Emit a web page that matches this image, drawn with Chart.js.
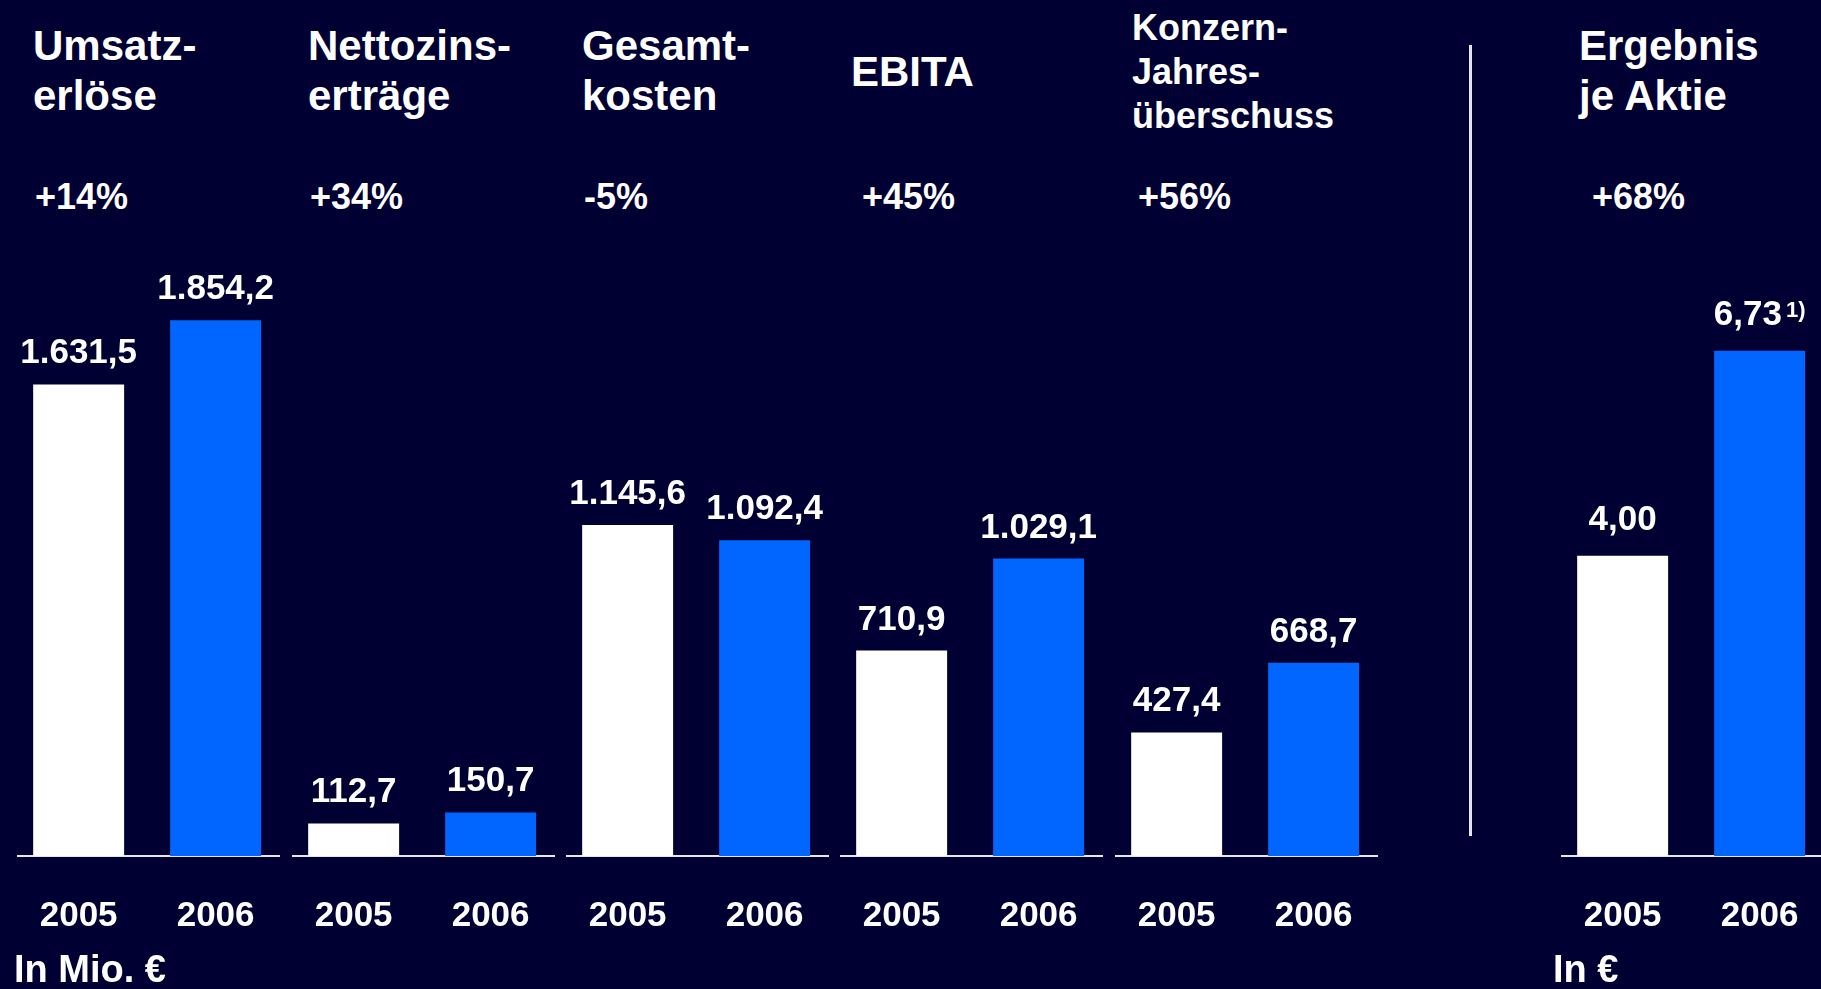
<!DOCTYPE html>
<html lang="de">
<head>
<meta charset="utf-8">
<title>Kennzahlen 2006</title>
<script src="https://cdn.jsdelivr.net/npm/chart.js@4.4.1/dist/chart.umd.min.js"></script>
<style>
    html, body {
        margin: 0;
        padding: 0;
        width: 1821px;
        height: 989px;
        overflow: hidden;
        background: #000033;
        font-family: "Liberation Sans", Arial, sans-serif;
        font-weight: bold;
        color: #ffffff;
    }
    .panel-chart { position: absolute; top: 200px; }
    .title { position: absolute; font-size: 42px; line-height: 50px; top: 21px; white-space: nowrap; }
    .title--small { font-size: 36px; line-height: 44px; top: 6px; }
    .title--single { top: 47px; }
    .change { position: absolute; font-size: 36px; line-height: 44px; top: 175px; }
    .unit { position: absolute; font-size: 38px; line-height: 44px; top: 947px; }
    .divider { position: absolute; left: 1469px; top: 45px; width: 3px; height: 791px; background: #e4e4ec; }
</style>
</head>
<body>
<div id="stage"></div>
<div class="divider"></div>
<div class="unit" style="left: 14px;">In Mio. €</div>
<div class="unit" style="left: 1553px;">In €</div>

<script>
// Chart data
const years = ['2005', '2006'];
const umsatzerloese = [1631.5, 1854.2];
const nettozinsertraege = [112.7, 150.7];
const gesamtkosten = [1145.6, 1092.4];
const ebita = [710.9, 1029.1];
const jahresueberschuss = [427.4, 668.7];
const ergebnisJeAktie = [4.00, 6.73];
const ergebnisNotes = ['', '1)'];

const panelTitles = [
    ['Umsatz-', 'erlöse'],
    ['Nettozins-', 'erträge'],
    ['Gesamt-', 'kosten'],
    ['EBITA'],
    ['Konzern-', 'Jahres-', 'überschuss'],
    ['Ergebnis', 'je Aktie'],
];
const changes = ['+14%', '+34%', '-5%', '+45%', '+56%', '+68%'];

const barColors = ['#ffffff', '#0066ff'];
const FONT = '"Liberation Sans", Arial, sans-serif';

function formatDe(value, decimals) {
    const fixed = value.toFixed(decimals);
    const [intPart, decPart] = fixed.split('.');
    const grouped = intPart.replace(/\B(?=(\d{3})+(?!\d))/g, '.');
    return decPart ? grouped + ',' + decPart : grouped;
}

// Draws the value above each bar, with an optional raised footnote marker
const valueLabels = {
    id: 'valueLabels',
    afterDatasetsDraw(chart, args, opts) {
        const ctx = chart.ctx;
        const meta = chart.getDatasetMeta(0);
        const gap = opts.gap || 21;
        ctx.save();
        ctx.fillStyle = '#ffffff';
        ctx.textBaseline = 'alphabetic';
        ctx.textAlign = 'left';
        meta.data.forEach((bar, i) => {
            const text = opts.labels[i];
            const note = (opts.notes && opts.notes[i]) || '';
            ctx.font = 'bold 35px ' + FONT;
            const mainWidth = ctx.measureText(text).width;
            ctx.font = 'bold 22px ' + FONT;
            const noteWidth = note ? ctx.measureText(note).width + 4 : 0;
            const startX = bar.x - (mainWidth + noteWidth) / 2;
            const baseY = bar.y - gap;
            ctx.font = 'bold 35px ' + FONT;
            ctx.fillText(text, startX, baseY);
            if (note) {
                ctx.font = 'bold 22px ' + FONT;
                ctx.fillText(note, startX + mainWidth + 4, baseY - 8);
            }
        });
        ctx.restore();
    }
};

const panels = [
    { values: umsatzerloese, decimals: 1, yMax: 2000, left: 17 },
    { values: nettozinsertraege, decimals: 1, yMax: 2000, left: 292 },
    { values: gesamtkosten, decimals: 1, yMax: 2000, left: 566 },
    { values: ebita, decimals: 1, yMax: 2000, left: 840 },
    { values: jahresueberschuss, decimals: 1, yMax: 2000, left: 1115 },
    { values: ergebnisJeAktie, decimals: 2, yMax: 7.7, left: 1561, notes: ergebnisNotes, gap: 26 },
];
const titleLeft = [33, 308, 582, 851, 1132, 1579];
const changeLeft = [35, 310, 584, 862, 1138, 1592];

const stage = document.getElementById('stage');

panelTitles.forEach((lines, i) => {
    const title = document.createElement('div');
    title.className = 'title' + (lines.length > 2 ? ' title--small' : '') + (lines.length === 1 ? ' title--single' : '');
    title.style.left = titleLeft[i] + 'px';
    title.innerHTML = lines.join('<br>');
    stage.appendChild(title);

    const change = document.createElement('div');
    change.className = 'change';
    change.style.left = changeLeft[i] + 'px';
    change.textContent = changes[i];
    stage.appendChild(change);
});

panels.forEach((panel) => {
    const canvas = document.createElement('canvas');
    canvas.className = 'panel-chart';
    canvas.width = 263;
    canvas.height = 789;
    canvas.style.left = panel.left + 'px';
    stage.appendChild(canvas);

    new Chart(canvas.getContext('2d'), {
        type: 'bar',
        data: {
            datasets: [{
                data: panel.values.map((v, i) => ({ x: i, y: v })),
                backgroundColor: barColors,
                borderWidth: 0,
                barPercentage: 0.664,
                categoryPercentage: 1,
            }]
        },
        options: {
            responsive: false,
            animation: false,
            events: [],
            layout: { padding: { top: 78, bottom: 21, left: 0, right: 0 } },
            plugins: {
                legend: { display: false },
                tooltip: { enabled: false },
                valueLabels: {
                    labels: panel.values.map((v) => formatDe(v, panel.decimals)),
                    notes: panel.notes,
                    gap: panel.gap,
                },
            },
            scales: {
                x: {
                    type: 'linear',
                    bounds: 'data',
                    offset: false,
                    min: -0.45,
                    max: 1.47,
                    grid: { display: false },
                    border: { display: true, color: '#e6e6ee', width: 2 },
                    afterBuildTicks: (scale) => { scale.ticks = years.map((_, i) => ({ value: i })); },
                    afterFit: (scale) => { scale.paddingLeft = 0; scale.paddingRight = 0; },
                    ticks: {
                        color: '#ffffff',
                        padding: 31,
                        font: { family: FONT, size: 35, weight: 'bold' },
                        callback: (value) => years[value],
                    },
                },
                y: { display: false, min: 0, max: panel.yMax },
            },
        },
        plugins: [valueLabels],
    });
});
</script>
</body>
</html>
